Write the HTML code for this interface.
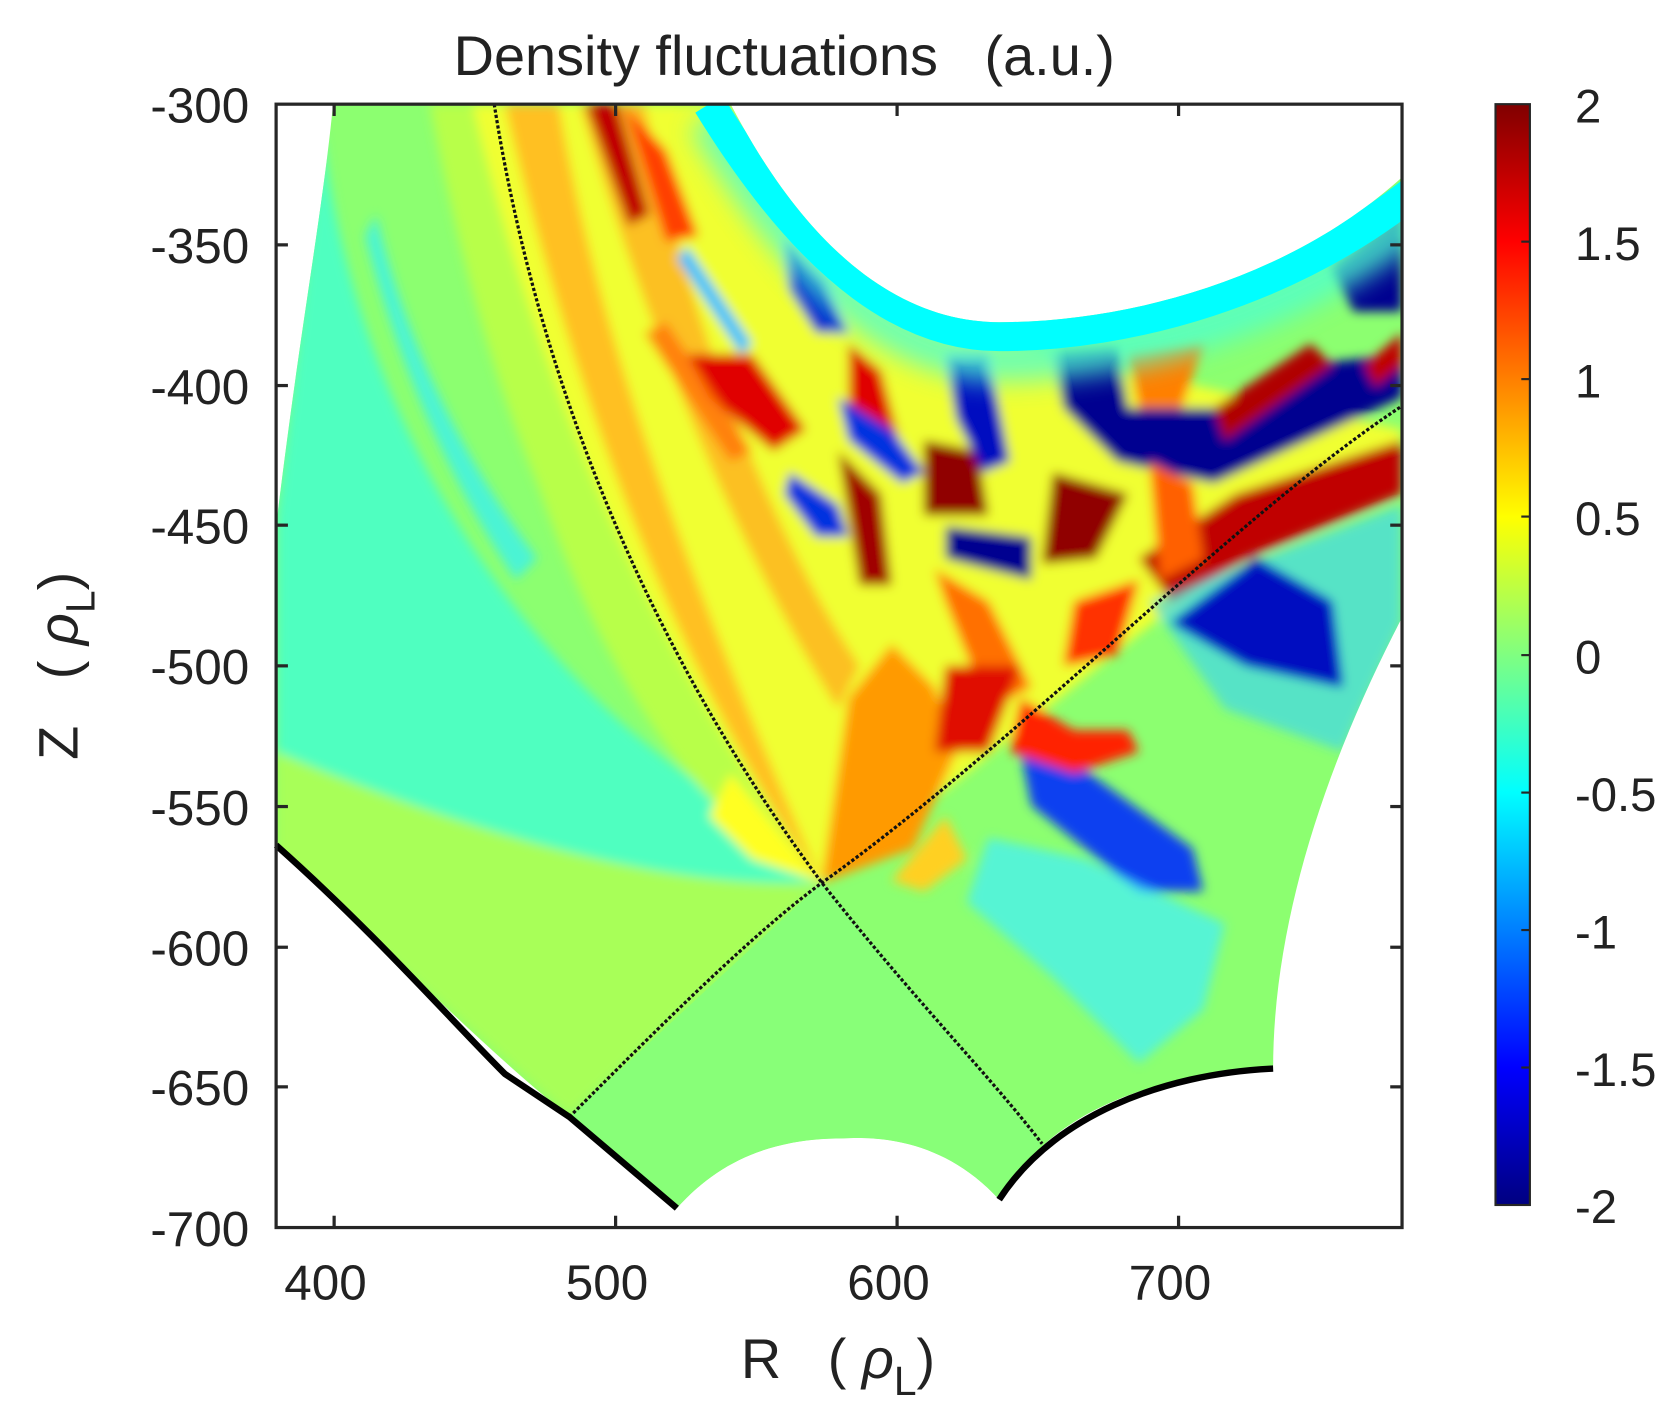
<!DOCTYPE html>
<html><head><meta charset="utf-8"><style>
html,body{margin:0;padding:0;background:#fff;}
svg{display:block;}
text{font-family:"Liberation Sans",sans-serif;fill:#222;}
</style></head><body>
<svg width="1676" height="1423" viewBox="0 0 1560 1325" preserveAspectRatio="none" xmlns="http://www.w3.org/2000/svg">
<defs>
<clipPath id="dom"><path d="M310,97 L680,97 C760,250 850,300 930,300 C1050,300 1200,260 1305,165 L1305,575 C1240,700 1185,850 1185,995 C1080,1000 980,1030 930,1117 C880,1062 820,1058 785,1060 C720,1060 670,1080 630,1125 L530,1040 C420,950 350,870 257,787 L257,490 C280,300 300,200 310,97 Z"/></clipPath>
<linearGradient id="cb" x1="0" y1="1" x2="0" y2="0">
<stop offset="0" stop-color="#000080"/><stop offset="0.125" stop-color="#0000ff"/><stop offset="0.375" stop-color="#00ffff"/><stop offset="0.5" stop-color="#80ff80"/><stop offset="0.625" stop-color="#ffff00"/><stop offset="0.875" stop-color="#ff0000"/><stop offset="1" stop-color="#800000"/>
</linearGradient>
<filter id="bl" filterUnits="userSpaceOnUse" x="0" y="0" width="1560" height="1325"><feGaussianBlur stdDeviation="5"/></filter>
<filter id="bl2" filterUnits="userSpaceOnUse" x="0" y="0" width="1560" height="1325"><feGaussianBlur stdDeviation="12"/></filter>
</defs>
<g clip-path="url(#dom)">
<rect x="250" y="90" width="1060" height="1060" fill="#8cff70"/>
<g filter="url(#bl)">
<path d="M300,120 C330,400 500,650 700,760 L765,822 C600,830 400,760 257,700 L257,480 Z" fill="#50ffc0"/>
<path d="M257,700 C400,760 600,830 765,822 L530,1040 L257,800 Z" fill="#a8ff58"/>
<path d="M400,97 L460,97 C500,350 600,600 765,822 C640,760 560,620 500,450 C450,330 420,200 400,97 Z" fill="#b8ff48"/>
<path d="M350,200 C380,330 440,440 500,520 L480,540 C420,450 370,340 340,220 Z" fill="#30f0ff" opacity="0.7"/>
<path d="M440,97 L680,97 C760,250 850,300 930,320 L1305,400 L1305,420 C1150,500 950,690 765,822 C600,600 500,350 440,97 Z" fill="#f0ff30"/>
<path d="M470,97 L520,97 C560,330 650,560 765,822 C650,660 540,400 470,97 Z" fill="#ffc020"/>
<path d="M540,97 L600,97 C640,300 720,500 800,620 L780,660 C680,500 600,300 540,97 Z" fill="#ffb020" opacity="0.8"/>
<path d="M680,720 L765,822 L700,800 L660,760 Z" fill="#ffff20"/>
<path d="M765,822 L790,650 L830,600 L870,640 L890,700 L850,790 Z" fill="#ff9a00"/>
<path d="M830,820 L880,760 L900,800 L860,830 Z" fill="#ffd020"/>
<path d="M545,97 L575,97 L605,200 L585,210 Z" fill="#c00000"/>
<path d="M580,97 L620,140 L650,220 L620,225 Z" fill="#ff4000"/>
<path d="M640,330 L700,330 L750,400 L720,420 L660,370 Z" fill="#e00000"/>
<path d="M620,300 L700,420 L680,430 L600,310 Z" fill="#ff7000" opacity="0.8"/>
<path d="M730,220 L770,260 L790,310 L760,310 L735,270 Z" fill="#0020d0"/>
<path d="M640,230 L700,320 L690,330 L630,240 Z" fill="#30c0ff"/>
<path d="M790,320 L820,345 L840,420 L820,430 L790,380 Z" fill="#e00000"/>
<path d="M780,370 L830,400 L860,440 L840,450 L790,410 Z" fill="#0030e0"/>
<path d="M735,440 L780,470 L790,500 L760,500 L730,460 Z" fill="#0030e0"/>
<path d="M780,420 L820,460 L830,545 L800,545 L790,480 Z" fill="#a00000"/>
<path d="M860,410 L910,420 L920,480 L860,480 Z" fill="#900000"/>
<path d="M880,330 L920,330 L940,430 L915,440 L890,390 Z" fill="#0010c0"/>
<path d="M880,490 L960,500 L960,540 L880,520 Z" fill="#000090"/>
<path d="M870,530 L920,560 L960,640 L920,660 L880,560 Z" fill="#ff7000"/>
<path d="M980,330 L1040,325 L1050,380 L1130,380 L1210,340 L1305,330 L1305,370 L1130,450 L1040,430 L990,380 Z" fill="#000090"/>
<path d="M1050,330 L1120,320 L1100,380 L1060,380 Z" fill="#ff8000"/>
<path d="M1130,380 L1220,320 L1240,340 L1140,410 Z" fill="#b00000"/>
<path d="M980,440 L1050,460 L1020,520 L970,525 Z" fill="#900000"/>
<path d="M1240,250 L1305,200 L1305,290 L1260,290 Z" fill="#000090"/>
<path d="M1270,340 L1305,310 L1305,340 L1280,360 Z" fill="#c00000"/>
<path d="M1060,520 L1150,460 L1305,410 L1305,460 L1160,520 L1090,560 Z" fill="#c00000"/>
<path d="M1070,430 L1110,450 L1120,520 L1080,540 Z" fill="#ff6000"/>
<path d="M1000,560 L1060,540 L1040,610 L990,620 Z" fill="#ff3000"/>
<path d="M1070,560 L1305,470 L1305,580 L1250,700 L1140,660 Z" fill="#30d0ff" opacity="0.6"/>
<path d="M1090,580 L1170,520 L1240,560 L1250,640 L1160,620 Z" fill="#0010c0"/>
<path d="M950,700 L1000,710 L1110,790 L1120,830 L1060,830 L960,750 Z" fill="#1040f0"/>
<path d="M920,780 L1010,800 L1140,860 L1120,940 L1060,990 L980,910 L900,840 Z" fill="#40f0ff" opacity="0.7"/>
<path d="M950,650 L1000,680 L1050,680 L1060,700 L1000,720 L940,700 Z" fill="#ff2000"/>
<path d="M880,620 L950,620 L920,700 L870,700 Z" fill="#e01000"/>
</g>
<path d="M660,110 C760,280 850,335 930,335 C1050,335 1200,295 1320,200" stroke="#50ffd0" stroke-width="40" fill="none" filter="url(#bl2)" opacity="0.8"/>
<path d="M660,97 C760,260 850,312 930,312 C1050,312 1200,272 1320,175" stroke="#00ffff" stroke-width="30" fill="none"/>
<path d="M930,1117 C880,1062 820,1058 785,1060 C720,1060 670,1080 630,1125 L530,1040 L765,822 L970,1065 Z" fill="#88ff78"/>
</g>
<path d="M460,97 C500,350 600,600 765,822 C850,930 920,1000 970,1065" stroke="#111" stroke-width="3" stroke-dasharray="3,2" fill="none"/>
<path d="M530,1040 C620,950 700,870 765,822 C950,690 1150,480 1305,378" stroke="#111" stroke-width="3" stroke-dasharray="3,2" fill="none"/>
<path d="M257,787 C350,870 420,950 470,1000 L530,1040 L630,1125" stroke="#000" stroke-width="6" fill="none"/>
<path d="M930,1117 C980,1040 1080,1000 1185,995" stroke="#000" stroke-width="6" fill="none"/>
<rect x="257" y="97" width="1048" height="1046" fill="none" stroke="#262626" stroke-width="3"/>
<g stroke="#262626" stroke-width="3">
<line x1="311" y1="1143" x2="311" y2="1132"/><line x1="573" y1="1143" x2="573" y2="1132"/><line x1="835" y1="1143" x2="835" y2="1132"/><line x1="1097" y1="1143" x2="1097" y2="1132"/>
<line x1="311" y1="97" x2="311" y2="108"/><line x1="573" y1="97" x2="573" y2="108"/><line x1="835" y1="97" x2="835" y2="108"/><line x1="1097" y1="97" x2="1097" y2="108"/>
<line x1="257" y1="228" x2="268" y2="228"/><line x1="257" y1="359" x2="268" y2="359"/><line x1="257" y1="489" x2="268" y2="489"/><line x1="257" y1="620" x2="268" y2="620"/><line x1="257" y1="751" x2="268" y2="751"/><line x1="257" y1="882" x2="268" y2="882"/><line x1="257" y1="1012" x2="268" y2="1012"/>
<line x1="1305" y1="228" x2="1294" y2="228"/><line x1="1305" y1="359" x2="1294" y2="359"/><line x1="1305" y1="489" x2="1294" y2="489"/><line x1="1305" y1="620" x2="1294" y2="620"/><line x1="1305" y1="751" x2="1294" y2="751"/><line x1="1305" y1="882" x2="1294" y2="882"/><line x1="1305" y1="1012" x2="1294" y2="1012"/>
</g>
<g font-size="46" text-anchor="end">
<text x="232" y="114">-300</text><text x="232" y="245">-350</text><text x="232" y="376">-400</text><text x="232" y="506">-450</text><text x="232" y="637">-500</text><text x="232" y="768">-550</text><text x="232" y="899">-600</text><text x="232" y="1029">-650</text><text x="232" y="1160">-700</text>
</g>
<g font-size="46" text-anchor="middle">
<text x="303" y="1210">400</text><text x="565" y="1210">500</text><text x="827" y="1210">600</text><text x="1089" y="1210">700</text>
</g>
<text x="730" y="70" font-size="52" text-anchor="middle" xml:space="preserve">Density fluctuations   (a.u.)</text>
<text x="780" y="1283" font-size="52" text-anchor="middle" xml:space="preserve">R   ( <tspan font-style="italic">ρ</tspan><tspan font-size="38" dy="16">L</tspan><tspan dy="-16">)</tspan></text>
<text transform="translate(72,620) rotate(-90)" font-size="52" text-anchor="middle" xml:space="preserve">Z   ( <tspan font-style="italic">ρ</tspan><tspan font-size="38" dy="16">L</tspan><tspan dy="-16">)</tspan></text>
<rect x="1392" y="97" width="32" height="1025" fill="url(#cb)" stroke="#262626" stroke-width="2"/>
<g stroke="#262626" stroke-width="2">
<line x1="1424" y1="225" x2="1416" y2="225"/><line x1="1424" y1="353" x2="1416" y2="353"/><line x1="1424" y1="481" x2="1416" y2="481"/><line x1="1424" y1="610" x2="1416" y2="610"/><line x1="1424" y1="738" x2="1416" y2="738"/><line x1="1424" y1="866" x2="1416" y2="866"/><line x1="1424" y1="994" x2="1416" y2="994"/>
</g>
<g font-size="44">
<text x="1466" y="114">2</text><text x="1466" y="242">1.5</text><text x="1466" y="370">1</text><text x="1466" y="498">0.5</text><text x="1466" y="627">0</text><text x="1466" y="755">-0.5</text><text x="1466" y="883">-1</text><text x="1466" y="1011">-1.5</text><text x="1466" y="1139">-2</text>
</g>
</svg>
</body></html>
